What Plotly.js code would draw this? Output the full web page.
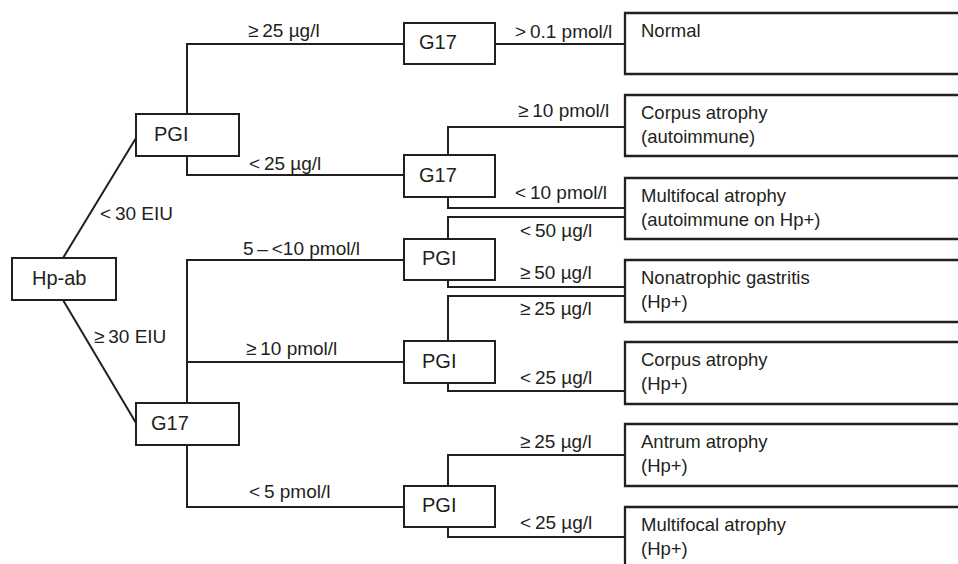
<!DOCTYPE html>
<html>
<head>
<meta charset="utf-8">
<script src="https://cdn.plot.ly/plotly-3.0.1.min.js"></script>
<style>html,body{margin:0;padding:0;background:#fff}#chart{width:958px;height:564px}</style>
</head>
<body>
<div id="chart"></div>
<script>
// ---- Decision nodes ----
const nodeLabels = ['Hp-ab', 'PGI', 'G17', 'G17', 'G17', 'PGI', 'PGI', 'PGI'];
const nodeX0 = [12, 136, 136, 404, 404, 404, 404, 404];
const nodeX1 = [116, 239, 239, 495, 495, 495, 495, 495];
const nodeY0 = [258, 114, 403, 23, 155, 239, 341, 486];
const nodeY1 = [300, 156, 445, 64, 197, 280, 383, 527];
const nodeTextX = [30, 152, 149, 417, 417, 420, 420, 420];

// ---- Outcome boxes ----
const resultLabels = [
  'Normal',
  'Corpus atrophy<br>(autoimmune)',
  'Multifocal atrophy<br>(autoimmune on Hp+)',
  'Nonatrophic gastritis<br>(Hp+)',
  'Corpus atrophy<br>(Hp+)',
  'Antrum atrophy<br>(Hp+)',
  'Multifocal atrophy<br>(Hp+)'
];
const resultX0 = 625;
const resultX1 = 975;
const resultY0 = [13, 95, 178, 260, 342, 424, 507];
const resultY1 = [74, 156, 239, 322, 404, 486, 580];
const resultTextX = 639;

// ---- Connectors (paths) ----
const connX = [
  [63, 136], [63, 136],
  [187, 187, 404], [187, 187, 404],
  [187, 187, 404], [187, 404], [187, 187, 404],
  [495, 625],
  [448, 448, 625], [448, 448, 625],
  [448, 448, 625], [448, 448, 625],
  [448, 448, 625], [448, 448, 625],
  [448, 448, 625], [448, 448, 625]
];
const connY = [
  [258, 138], [300, 423],
  [114, 44, 44], [156, 175, 175],
  [403, 260, 260], [362, 362], [445, 507, 507],
  [44, 44],
  [155, 127, 127], [197, 208, 208],
  [239, 217, 217], [280, 287, 287],
  [341, 296, 296], [383, 391, 391],
  [486, 455, 455], [527, 537, 537]
];

// ---- Branch labels ----
const edgeLabels = [
  '\u2265\u200925 \u00b5g/l', '<\u200925 \u00b5g/l', '<\u200930 EIU', '5\u2009\u2013\u2009<10 pmol/l',
  '\u2265\u200930 EIU', '\u2265\u200910 pmol/l', '<\u20095 pmol/l',
  '>\u20090.1 pmol/l', '\u2265\u200910 pmol/l', '<\u200910 pmol/l',
  '<\u200950 \u00b5g/l', '\u2265\u200950 \u00b5g/l', '\u2265\u200925 \u00b5g/l', '<\u200925 \u00b5g/l',
  '\u2265\u200925 \u00b5g/l', '<\u200925 \u00b5g/l'
];
const edgeLabelX = [246, 247, 98, 241, 92, 244, 247, 513, 516, 513, 518, 518, 518, 518, 518, 518];
const edgeLabelY = [30, 163, 213, 248, 336, 348, 491, 31, 110, 192, 230, 272, 308, 377, 441, 522];

// ---- Build ----
const INK = '#231f20';
const FONT = 'Liberation Sans, Arial, Helvetica, sans-serif';
const traces = [];
for (let i = 0; i < connX.length; i++) {
  traces.push({x: connX[i], y: connY[i], mode: 'lines', type: 'scatter',
    line: {color: INK, width: 2}, hoverinfo: 'skip', showlegend: false});
}
const shapes = [];
for (let i = 0; i < nodeLabels.length; i++) {
  shapes.push({type: 'rect', xref: 'x', yref: 'y', x0: nodeX0[i], x1: nodeX1[i], y0: nodeY0[i], y1: nodeY1[i],
    line: {color: INK, width: 2}, fillcolor: 'rgba(0,0,0,0)'});
}
for (let i = 0; i < resultLabels.length; i++) {
  shapes.push({type: 'rect', xref: 'x', yref: 'y', x0: resultX0, x1: resultX1, y0: resultY0[i], y1: resultY1[i],
    line: {color: INK, width: 2.3}, fillcolor: 'rgba(0,0,0,0)'});
}
const annotations = [];
for (let i = 0; i < nodeLabels.length; i++) {
  annotations.push({x: nodeTextX[i], y: (nodeY0[i] + nodeY1[i]) / 2 - 1.5, xref: 'x', yref: 'y', text: nodeLabels[i],
    showarrow: false, xanchor: 'left', yanchor: 'middle', font: {family: FONT, size: 20, color: INK}});
}
for (let i = 0; i < resultLabels.length; i++) {
  annotations.push({x: resultTextX, y: resultY0[i] + 5, xref: 'x', yref: 'y', text: resultLabels[i],
    showarrow: false, xanchor: 'left', yanchor: 'top', align: 'left', font: {family: FONT, size: 18.5, color: INK}});
}
for (let i = 0; i < edgeLabels.length; i++) {
  annotations.push({x: edgeLabelX[i], y: edgeLabelY[i], xref: 'x', yref: 'y', text: edgeLabels[i],
    showarrow: false, xanchor: 'left', yanchor: 'middle', font: {family: FONT, size: 19, color: INK}});
}
const layout = {
  width: 958, height: 564,
  margin: {l: 0, r: 0, t: 0, b: 0},
  paper_bgcolor: '#ffffff', plot_bgcolor: '#ffffff',
  xaxis: {range: [0, 958], visible: false, fixedrange: true},
  yaxis: {range: [564, 0], visible: false, fixedrange: true},
  shapes: shapes, annotations: annotations, showlegend: false
};
Plotly.newPlot('chart', traces, layout, {displayModeBar: false, staticPlot: true});
</script>
</body>
</html>
